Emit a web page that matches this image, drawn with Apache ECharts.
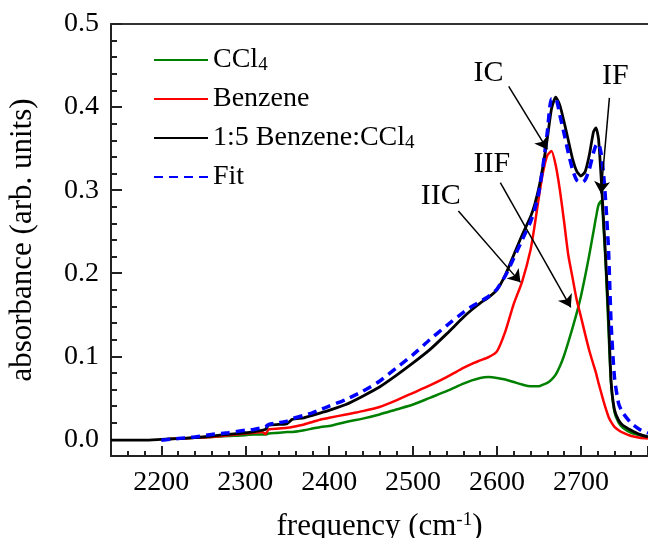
<!DOCTYPE html>
<html lang="en">
<head>
    <meta charset="UTF-8">
    <title>Absorbance spectra</title>
    <script src="https://cdn.jsdelivr.net/npm/echarts@6/dist/echarts.min.js"></script>
    <style>
        html, body { margin: 0; padding: 0; background: #fff; }
        #main { width: 648px; height: 538px; }
    </style>
</head>
<body>
    <div id="main"></div>
    <script>
        // frequency grid (cm-1), shared by all curves
        var freq = [2140, 2160, 2180, 2200, 2220, 2240, 2260, 2280, 2300, 2310, 2320, 2324, 2328, 2340, 2350, 2356,
            2370, 2380, 2390, 2400, 2420, 2440, 2460, 2480, 2500, 2520, 2540, 2560, 2570, 2580, 2590, 2600,
            2610, 2620, 2630, 2640, 2645, 2650, 2655, 2660, 2665, 2670, 2675, 2680, 2685, 2690, 2695, 2700,
            2705, 2710, 2715, 2718, 2721, 2724, 2727, 2730, 2733, 2736, 2740, 2745, 2750, 2760, 2770, 2780];

        var ccl4 = [null, null, null, 0.000, 0.001, 0.002, 0.003, 0.004, 0.005, 0.006, 0.006, 0.006, 0.007, 0.008, 0.009, 0.009,
            0.011, 0.013, 0.015, 0.016, 0.021, 0.025, 0.030, 0.036, 0.042, 0.050, 0.058, 0.067, 0.071, 0.074, 0.075, 0.074,
            0.072, 0.069, 0.066, 0.064, 0.064, 0.064, 0.066, 0.068, 0.072, 0.078, 0.088, 0.101, 0.117, 0.134, 0.152, 0.172,
            0.196, 0.222, 0.250, 0.267, 0.282, 0.287, 0.255, 0.200, 0.130, 0.067, 0.033, 0.020, 0.014, 0.008, 0.005, 0.003];

        var benzene = [null, null, null, 0.000, 0.001, 0.002, 0.003, 0.005, 0.007, 0.008, 0.009, 0.0065, 0.012, 0.013, 0.014, 0.015,
            0.018, 0.021, 0.024, 0.026, 0.030, 0.034, 0.039, 0.047, 0.056, 0.065, 0.075, 0.086, 0.091, 0.095, 0.099, 0.106,
            0.130, 0.163, 0.190, 0.228, 0.258, 0.292, 0.322, 0.342, 0.347, 0.330, 0.300, 0.262, 0.222, 0.195, 0.168, 0.148,
            0.127, 0.107, 0.090, 0.080, 0.068, 0.057, 0.046, 0.036, 0.027, 0.021, 0.015, 0.011, 0.008, 0.004, 0.002, 0.001];

        var mixture = [-0.001, -0.001, -0.001, 0.000, 0.001, 0.002, 0.004, 0.006, 0.008, 0.009, 0.011, 0.012, 0.017, 0.018, 0.019, 0.024,
            0.026, 0.029, 0.032, 0.035, 0.042, 0.052, 0.063, 0.077, 0.092, 0.108, 0.127, 0.147, 0.156, 0.164, 0.171, 0.180,
            0.198, 0.222, 0.246, 0.268, 0.283, 0.303, 0.330, 0.362, 0.398, 0.412, 0.402, 0.382, 0.360, 0.338, 0.323, 0.317,
            0.322, 0.342, 0.370, 0.375, 0.362, 0.318, 0.265, 0.210, 0.147, 0.070, 0.036, 0.023, 0.017, 0.011, 0.006, 0.003];

        var fit = [null, null, null, -0.001, 0.001, 0.003, 0.006, 0.008, 0.011, 0.012, 0.014, 0.015, 0.018, 0.020, 0.022, 0.025,
            0.029, 0.032, 0.036, 0.040, 0.048, 0.058, 0.070, 0.086, 0.102, 0.120, 0.137, 0.153, 0.160, 0.166, 0.172, 0.181,
            0.197, 0.218, 0.240, 0.262, 0.277, 0.298, 0.330, 0.370, 0.410, 0.410, 0.390, 0.368, 0.345, 0.325, 0.312, 0.309,
            0.312, 0.325, 0.345, 0.354, 0.356, 0.345, 0.320, 0.280, 0.227, 0.140, 0.075, 0.043, 0.032, 0.0195, 0.012, 0.0075];

        // peak labels and arrows: [label, labelX, labelY, fromX, fromY, toX, toY]
        var peaks = [
            ['IC', 2590, 0.441, 2614, 0.425, 2660, 0.349],
            ['IF', 2741, 0.437, 2734, 0.411, 2724, 0.296],
            ['IIF', 2594, 0.331, 2604, 0.309, 2688, 0.159],
            ['IIC', 2533, 0.293, 2554, 0.275, 2628, 0.189]
        ];

        function pairs(values) {
            var out = [];
            for (var i = 0; i < freq.length; i++) {
                if (values[i] !== null) out.push([freq[i], values[i]]);
            }
            return out;
        }

        var serif = 'Liberation Serif';
        var chart = echarts.init(document.getElementById('main'));

        var option = {
            animation: false,
            backgroundColor: '#fff',
            grid: { left: 111, right: 0, top: 24, bottom: 82, outerBoundsMode: 'none' },
            legend: {
                orient: 'vertical',
                left: 148,
                top: 40,
                itemWidth: 54,
                itemHeight: 14,
                itemGap: 9,
                selectedMode: false,
                itemStyle: { opacity: 0 },
                textStyle: {
                    fontFamily: serif, fontSize: 28, color: '#000', lineHeight: 30,
                    rich: {
                        sub: { fontFamily: serif, fontSize: 19, color: '#000', lineHeight: 10, verticalAlign: 'bottom' }
                    }
                },
                formatter: function (name) {
                    return name.replace('CCl4', 'CCl{sub|4}');
                },
                data: ['CCl4', 'Benzene', '1:5 Benzene:CCl4', 'Fit']
            },
            xAxis: [{
                type: 'value',
                min: 2140,
                max: 2780,
                name: 'frequency (cm{sup|-1})',
                nameLocation: 'middle',
                nameGap: 55,
                nameTextStyle: {
                    fontFamily: serif, fontSize: 31, color: '#000',
                    rich: {
                        sup: { fontFamily: serif, fontSize: 19, color: '#000', lineHeight: 10, verticalAlign: 'top' }
                    }
                },
                axisLine: { show: true, onZero: false, lineStyle: { color: '#222', width: 2 } },
                axisTick: { show: true, inside: true, length: 10, lineStyle: { color: '#222', width: 2 } },
                minorTick: { show: true, splitNumber: 5, length: 5, lineStyle: { color: '#222', width: 2 } },
                axisLabel: {
                    fontFamily: serif, fontSize: 28, color: '#000', margin: 13,
                    showMinLabel: false, showMaxLabel: false,
                    formatter: function (v) { return String(v); }
                },
                splitLine: { show: false }
            }, {
                type: 'value',
                position: 'top',
                min: 2140,
                max: 2780,
                axisLine: { show: true, onZero: false, lineStyle: { color: '#333', width: 2 } },
                axisTick: { show: false },
                axisLabel: { show: false },
                splitLine: { show: false }
            }],
            yAxis: {
                type: 'value',
                min: -0.02,
                max: 0.5,
                name: 'absorbance (arb. units)',
                nameLocation: 'middle',
                nameGap: 73,
                nameTextStyle: { fontFamily: serif, fontSize: 31, color: '#000' },
                axisLine: { show: true, onZero: false, lineStyle: { color: '#222', width: 2 } },
                axisTick: { show: true, inside: true, length: 11, lineStyle: { color: '#222', width: 2 } },
                minorTick: { show: true, splitNumber: 5, length: 6, lineStyle: { color: '#222', width: 2 } },
                axisLabel: {
                    fontFamily: serif, fontSize: 28, color: '#000', margin: 12,
                    showMinLabel: false,
                    formatter: function (v) { return v.toFixed(1); }
                },
                splitLine: { show: false }
            },
            series: [{
                name: 'CCl4',
                type: 'line',
                symbol: 'none',
                smooth: 0.3,
                data: pairs(ccl4),
                lineStyle: { color: '#008000', width: 2.5 },
                itemStyle: { color: '#008000' }
            }, {
                name: 'Benzene',
                type: 'line',
                symbol: 'none',
                smooth: 0.2,
                data: pairs(benzene),
                lineStyle: { color: '#ff0000', width: 2.5 },
                itemStyle: { color: '#ff0000' }
            }, {
                name: '1:5 Benzene:CCl4',
                type: 'line',
                symbol: 'none',
                smooth: 0.2,
                data: pairs(mixture),
                lineStyle: { color: '#000', width: 2.8 },
                itemStyle: { color: '#000' },
                markLine: {
                    silent: true,
                    symbol: ['none', 'arrow'],
                    symbolSize: 12,
                    label: { show: false },
                    lineStyle: { color: '#000', width: 1.5, type: 'solid' },
                    data: peaks.map(function (p) {
                        return [{ coord: [p[3], p[4]] }, { coord: [p[5], p[6]] }];
                    })
                },
                markPoint: {
                    silent: true,
                    symbol: 'rect',
                    symbolSize: 1,
                    itemStyle: { color: 'rgba(0,0,0,0)' },
                    label: {
                        show: true, position: 'inside', formatter: '{b}',
                        fontFamily: serif, fontSize: 30, color: '#000'
                    },
                    data: peaks.map(function (p) {
                        return { name: p[0], coord: [p[1], p[2]] };
                    })
                }
            }, {
                name: 'Fit',
                type: 'line',
                symbol: 'none',
                smooth: 0.2,
                data: pairs(fit),
                lineStyle: { color: '#0000ff', width: 3.5, type: [9, 6] },
                itemStyle: { color: '#0000ff' }
            }]
        };

        chart.setOption(option);
    </script>
</body>
</html>
